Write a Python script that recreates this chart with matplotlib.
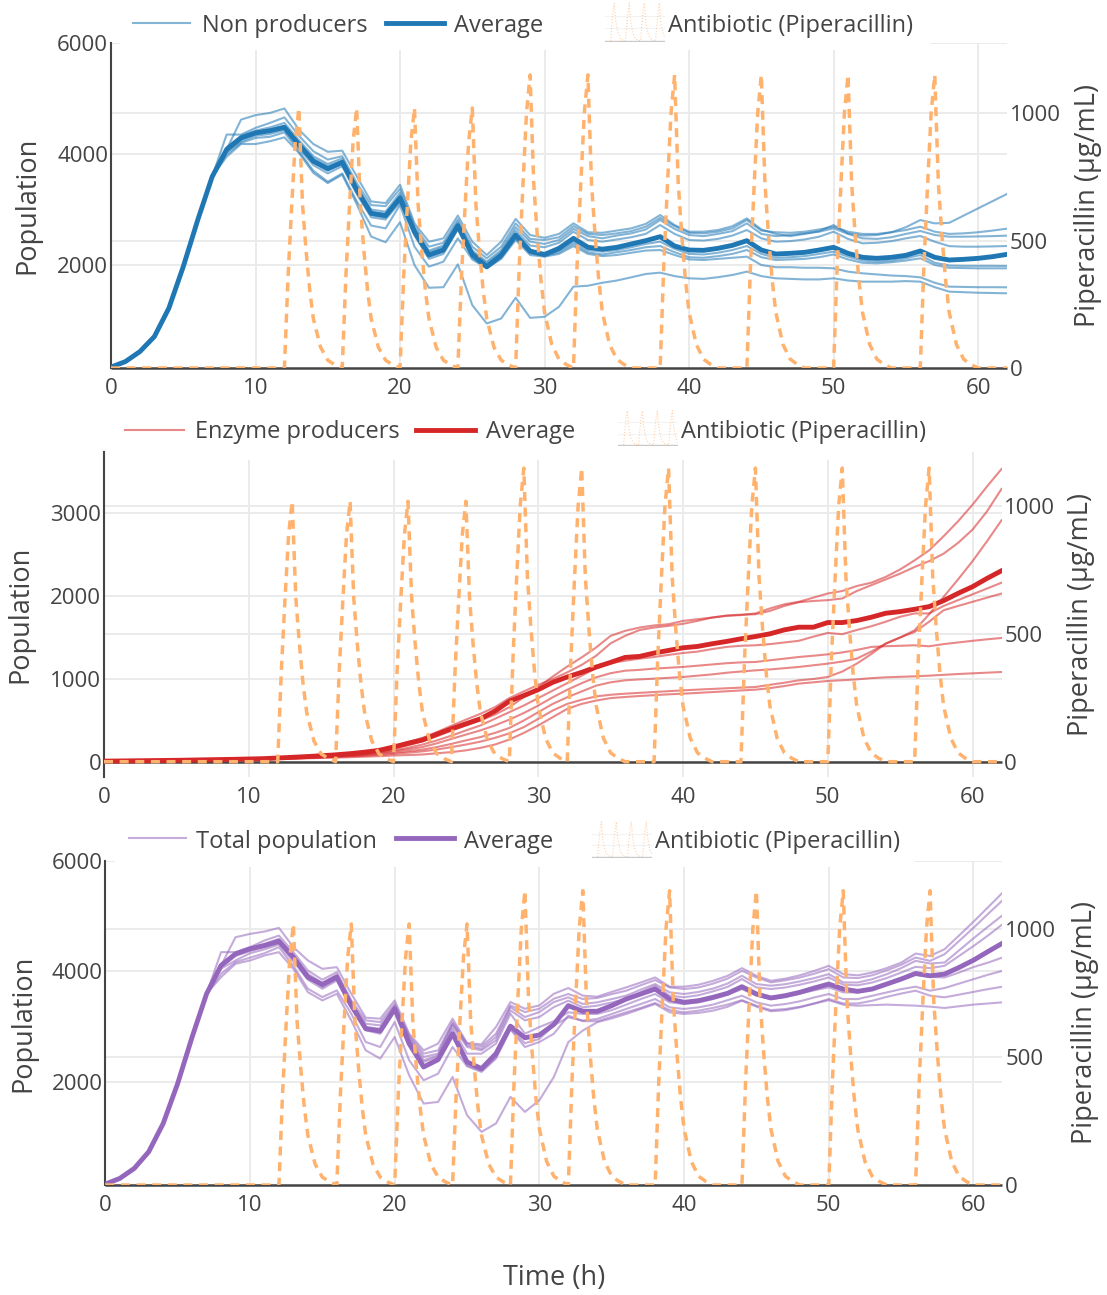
import numpy as np
import matplotlib
import matplotlib.pyplot as plt
from matplotlib.lines import Line2D
from matplotlib.patches import Rectangle

matplotlib.rcParams['font.family'] = ['Open Sans', 'DejaVu Sans']

hours = list(range(63))

# antibiotic doses (h) and peak concentration reached one hour later
dose_start = [12, 16, 20, 24, 28, 32, 38, 44, 50, 56]
dose_peak = [1020, 1020, 1020, 1020, 1150, 1150, 1150, 1150, 1150, 1150]
# shape of one dose, relative to its peak, hours after the dose
dose_offset = [0, 0.25, 0.5, 0.75, 1.0, 1.25, 1.5, 1.75, 2.0, 2.5, 3.0, 3.5, 4.0]
dose_shape = [0, 0.35, 0.62, 0.87, 1.0, 0.63, 0.45, 0.30, 0.19, 0.08, 0.03, 0.012, 0]

# ---- non producers (t = 0..62) ----
np_early = [160, 260, 440, 710, 1220, 1970, 2810, 3590]
np_avg = np_early + [
    4080, 4290, 4380, 4420, 4480, 4170, 3870, 3735, 3850, 3355,
    2930, 2890, 3205, 2600, 2180, 2270, 2705, 2190, 1970, 2180,
    2540, 2250, 2190, 2300, 2480, 2320, 2285, 2318, 2378, 2438,
    2510, 2342, 2270, 2264, 2300, 2354, 2438, 2270, 2198, 2210,
    2228, 2270, 2318, 2210, 2138, 2120, 2138, 2174, 2252, 2138,
    2090, 2102, 2120, 2150, 2192]
np_reps = [
    np_early + [4080, 4620, 4700, 4740, 4820, 4440, 4180, 4040, 4060, 3600,
                3145, 3115, 3446, 2750, 2420, 2480, 2890, 2420, 2180, 2420,
                2830, 2540, 2490, 2560, 2750, 2590, 2580, 2620, 2660, 2740,
                2900, 2720, 2600, 2600, 2630, 2700, 2840, 2640, 2560, 2520,
                2560, 2610, 2720, 2570, 2530, 2540, 2590, 2680, 2810, 2750,
                2760, 2890, 3020, 3150, 3280],
    np_early + [4350, 4350, 4470, 4560, 4660, 4330, 4050, 3900, 3960, 3480,
                3080, 3060, 3370, 2700, 2330, 2400, 2820, 2330, 2120, 2330,
                2750, 2470, 2450, 2500, 2700, 2560, 2540, 2570, 2610, 2690,
                2850, 2700, 2580, 2570, 2600, 2660, 2810, 2620, 2590, 2580,
                2600, 2640, 2690, 2600, 2560, 2560, 2590, 2630, 2690, 2600,
                2560, 2570, 2590, 2620, 2655],
    np_early + [4120, 4330, 4420, 4480, 4560, 4250, 3960, 3820, 3920, 3420,
                3000, 2960, 3300, 2650, 2260, 2350, 2770, 2260, 2060, 2270,
                2680, 2420, 2380, 2450, 2650, 2520, 2480, 2530, 2570, 2640,
                2810, 2650, 2540, 2520, 2560, 2610, 2750, 2560, 2520, 2540,
                2570, 2600, 2660, 2560, 2480, 2470, 2500, 2560, 2613, 2540,
                2510, 2510, 2515, 2520, 2529],
    np_early + [4100, 4300, 4400, 4440, 4510, 4200, 3920, 3780, 3880, 3380,
                2960, 2920, 3250, 2620, 2230, 2320, 2740, 2230, 2030, 2230,
                2620, 2350, 2320, 2400, 2600, 2450, 2420, 2460, 2500, 2560,
                2720, 2560, 2450, 2440, 2470, 2530, 2630, 2480, 2420, 2430,
                2460, 2510, 2600, 2470, 2390, 2400, 2430, 2480, 2523, 2420,
                2340, 2330, 2330, 2335, 2342],
    np_early + [4060, 4270, 4370, 4400, 4470, 4150, 3850, 3700, 3820, 3320,
                2900, 2850, 3170, 2560, 2150, 2240, 2680, 2160, 1950, 2150,
                2510, 2230, 2170, 2260, 2420, 2270, 2240, 2270, 2320, 2380,
                2420, 2290, 2200, 2190, 2220, 2270, 2342, 2200, 2130, 2140,
                2160, 2200, 2240, 2150, 2080, 2060, 2080, 2120, 2180, 2040,
                1990, 1985, 1985, 1984, 1982],
    np_early + [4040, 4230, 4330, 4360, 4430, 4100, 3800, 3650, 3780, 3280,
                2860, 2820, 3130, 2530, 2110, 2200, 2640, 2130, 1940, 2130,
                2480, 2210, 2160, 2230, 2380, 2230, 2190, 2230, 2270, 2320,
                2342, 2230, 2140, 2130, 2160, 2200, 2270, 2140, 2090, 2100,
                2110, 2140, 2190, 2100, 2040, 2030, 2050, 2080, 2120, 2000,
                1950, 1945, 1940, 1940, 1940],
    np_early + [4000, 4200, 4290, 4310, 4390, 4050, 3700, 3500, 3650, 3150,
                2711, 2660, 3085, 2330, 1970, 2060, 2480, 2100, 1940, 2110,
                2450, 2180, 2150, 2200, 2340, 2200, 2160, 2180, 2220, 2260,
                2270, 2180, 2100, 2090, 2110, 2130, 2150, 2000, 1960, 1960,
                1950, 1950, 1940, 1880, 1850, 1830, 1810, 1800, 1778, 1680,
                1610, 1605, 1600, 1600, 1598],
    np_early + [3950, 4180, 4180, 4230, 4300, 4020, 3660, 3476, 3627, 3100,
                2512, 2410, 2771, 2000, 1590, 1600, 2012, 1277, 946, 1036,
                1410, 1048, 1066, 1247, 1610, 1626, 1680, 1720, 1778, 1838,
                1862, 1800, 1760, 1750, 1780, 1820, 1880, 1800, 1760, 1750,
                1740, 1740, 1760, 1720, 1700, 1700, 1700, 1710, 1700, 1600,
                1520, 1510, 1500, 1495, 1490],
]

# ---- enzyme producers ----
ep_early = [10, 12, 14, 16, 18, 20, 23, 26, 29, 32, 36, 40]
ep_avg = ep_early + [
    48, 56, 65, 75, 86, 100, 118, 140, 180, 225,
    265, 335, 400, 460, 520, 612, 732, 800, 872, 960,
    1024, 1080, 1144, 1200, 1260, 1272, 1312, 1344, 1376, 1392,
    1424, 1452, 1484, 1512, 1544, 1592, 1624, 1624, 1680, 1680,
    1704, 1744, 1792, 1812, 1840, 1872, 1944, 2032, 2112, 2212, 2304]
ep_reps = [
    ep_early + [48, 55, 62, 70, 80, 92, 108, 130, 160, 200,
                250, 310, 377, 440, 500, 570, 660, 780, 900, 1030,
                1150, 1260, 1380, 1520, 1580, 1620, 1645, 1660, 1700, 1720,
                1740, 1760, 1770, 1790, 1850, 1900, 1930, 1980, 2030, 2060,
                2120, 2160, 2230, 2320, 2430, 2550, 2720, 2900, 3100, 3320, 3530],
    ep_early + [46, 54, 62, 72, 84, 100, 120, 150, 190, 240,
                290, 360, 437, 510, 580, 660, 770, 850, 930, 1000,
                1080, 1170, 1280, 1430, 1520, 1590, 1620, 1640, 1665, 1700,
                1740, 1765, 1775, 1780, 1820, 1880, 1925, 1940, 1950, 1970,
                2060, 2130, 2200, 2270, 2350, 2420, 2510, 2640, 2800, 3020, 3290],
    ep_early + [44, 50, 57, 65, 75, 86, 100, 115, 140, 170,
                210, 260, 317, 380, 440, 520, 600, 680, 770, 860,
                950, 1040, 1130, 1190, 1220, 1245, 1265, 1290, 1313, 1330,
                1360, 1386, 1400, 1406, 1420, 1440, 1460, 1510, 1555, 1540,
                1590, 1635, 1690, 1750, 1790, 1790, 1880, 1950, 2020, 2090, 2160],
    ep_early + [42, 48, 55, 62, 70, 80, 92, 110, 130, 152,
                180, 225, 278, 330, 380, 440, 510, 590, 680, 780,
                870, 950, 1020, 1070, 1100, 1110, 1125, 1135, 1145, 1160,
                1175, 1190, 1200, 1205, 1225, 1245, 1265, 1280, 1297, 1320,
                1350, 1386, 1395, 1400, 1406, 1394, 1420, 1440, 1460, 1478, 1494],
    ep_early + [40, 46, 52, 58, 65, 74, 84, 96, 112, 130,
                150, 180, 218, 260, 300, 350, 410, 500, 600, 700,
                780, 850, 920, 960, 984, 995, 1004, 1014, 1024, 1040,
                1055, 1075, 1090, 1104, 1115, 1130, 1145, 1165, 1185, 1210,
                1245, 1330, 1426, 1500, 1567, 1690, 1828, 1880, 1930, 1980, 2029],
    ep_early + [38, 43, 48, 54, 60, 68, 76, 86, 98, 112,
                128, 150, 179, 210, 245, 290, 345, 420, 520, 620,
                700, 750, 790, 810, 823, 833, 843, 853, 863, 872,
                880, 888, 896, 903, 930, 955, 984, 1000, 1024, 1090,
                1185, 1300, 1426, 1500, 1587, 1780, 1989, 2200, 2420, 2660, 2912],
    ep_early + [36, 40, 44, 48, 53, 58, 64, 70, 78, 84,
                90, 105, 119, 140, 170, 210, 270, 350, 440, 540,
                640, 700, 740, 770, 783, 795, 805, 815, 823, 832,
                842, 852, 862, 871, 890, 915, 944, 960, 976, 985,
                995, 1010, 1020, 1026, 1032, 1040, 1050, 1060, 1068, 1076, 1084],
]

# ---- total population ----
tot_early = [150, 253, 434, 735, 1247, 1970, 2813, 3596]
tot_avg = tot_early + [
    4108, 4319, 4410, 4470, 4548, 4259, 3898, 3765, 3898, 3385,
    2964, 2922, 3325, 2693, 2271, 2404, 2873, 2361, 2241, 2512,
    3010, 2800, 2850, 3040, 3381, 3279, 3279, 3381, 3501, 3592,
    3682, 3501, 3441, 3471, 3532, 3604, 3724, 3592, 3520, 3562,
    3622, 3700, 3772, 3682, 3640, 3682, 3772, 3862, 3964, 3922,
    3952, 4072, 4204, 4360, 4511]
tot_reps = [
    tot_early + [4108, 4620, 4680, 4723, 4789, 4440, 4199, 4048, 4078, 3596,
                 3163, 3145, 3476, 2873, 2572, 2693, 3145, 2705, 2681, 2994,
                 3446, 3325, 3385, 3596, 3700, 3562, 3544, 3630, 3712, 3800,
                 3892, 3724, 3724, 3760, 3830, 3920, 4060, 3922, 3832, 3870,
                 3930, 4010, 4102, 3952, 3930, 3980, 4060, 4160, 4324, 4282,
                 4402, 4650, 4900, 5160, 5423],
    tot_early + [4350, 4350, 4440, 4560, 4650, 4350, 4018, 3850, 3988, 3476,
                 3114, 3084, 3416, 2840, 2512, 2572, 3084, 2693, 2645, 2873,
                 3385, 3265, 3325, 3506, 3592, 3501, 3520, 3590, 3652, 3750,
                 3844, 3712, 3682, 3710, 3780, 3870, 4012, 3892, 3802, 3840,
                 3890, 3960, 4042, 3892, 3880, 3930, 4020, 4120, 4252, 4192,
                 4312, 4550, 4790, 5040, 5285],
    tot_early + [4139, 4319, 4410, 4500, 4590, 4290, 3958, 3789, 3946, 3440,
                 3054, 3024, 3380, 2810, 2452, 2512, 3054, 2663, 2602, 2813,
                 3355, 3175, 3265, 3446, 3532, 3411, 3441, 3500, 3562, 3670,
                 3772, 3622, 3592, 3630, 3690, 3780, 3922, 3772, 3742, 3770,
                 3820, 3880, 3952, 3802, 3800, 3860, 3950, 4060, 4192, 4144,
                 4162, 4380, 4600, 4810, 5015],
    tot_early + [4110, 4300, 4390, 4470, 4548, 4260, 3928, 3747, 3910, 3410,
                 2994, 2964, 3355, 2780, 2392, 2482, 3024, 2633, 2572, 2753,
                 3295, 3115, 3175, 3355, 3471, 3351, 3381, 3440, 3501, 3620,
                 3742, 3562, 3532, 3570, 3640, 3720, 3862, 3712, 3682, 3710,
                 3760, 3820, 3892, 3760, 3750, 3800, 3880, 3980, 4084, 4060,
                 4102, 4280, 4460, 4650, 4853],
    tot_early + [4080, 4280, 4370, 4440, 4512, 4220, 3898, 3717, 3867, 3380,
                 2964, 2922, 3300, 2750, 2361, 2452, 2964, 2512, 2512, 2693,
                 3235, 2873, 2994, 3100, 3261, 3231, 3231, 3300, 3399, 3500,
                 3592, 3441, 3411, 3440, 3500, 3580, 3682, 3562, 3501, 3540,
                 3600, 3660, 3712, 3622, 3620, 3680, 3760, 3860, 3940, 3900,
                 3892, 3980, 4080, 4160, 4252],
    tot_early + [4050, 4200, 4330, 4400, 4488, 4180, 3850, 3687, 3837, 3350,
                 2934, 2873, 3280, 2700, 2290, 2420, 2850, 2300, 2200, 2450,
                 2964, 2700, 2780, 3024, 3171, 3111, 3141, 3230, 3321, 3410,
                 3501, 3351, 3321, 3350, 3400, 3480, 3562, 3441, 3381, 3410,
                 3460, 3530, 3592, 3501, 3500, 3560, 3620, 3680, 3724, 3652,
                 3700, 3780, 3860, 3940, 4012],
    tot_early + [3958, 4169, 4250, 4330, 4440, 4100, 3687, 3536, 3657, 3235,
                 2723, 2632, 3084, 2392, 2030, 2150, 2632, 2283, 2181, 2422,
                 2950, 2632, 2723, 2873, 3200, 3100, 3100, 3180, 3260, 3340,
                 3430, 3300, 3260, 3290, 3340, 3400, 3480, 3380, 3300, 3320,
                 3360, 3420, 3501, 3420, 3420, 3470, 3540, 3600, 3652, 3562,
                 3532, 3580, 3630, 3680, 3724],
    tot_early + [3898, 4139, 4199, 4289, 4350, 4048, 3626, 3476, 3596, 3114,
                 2572, 2422, 2813, 2120, 1608, 1638, 2090, 1398, 1096, 1247,
                 1729, 1458, 1669, 2090, 2721, 2931, 3081, 3150, 3231, 3320,
                 3411, 3261, 3231, 3250, 3290, 3360, 3471, 3363, 3279, 3300,
                 3350, 3420, 3480, 3399, 3380, 3390, 3400, 3390, 3381, 3363,
                 3339, 3370, 3400, 3420, 3441],
]

# antibiotic concentration over time
abx_t, abx_v = [0], [0]
for d, p in zip(dose_start, dose_peak):
    for o, s in zip(dose_offset, dose_shape):
        abx_t.append(d + o)
        abx_v.append(p * s)
abx_t.append(62)
abx_v.append(0)

W, H = 1107, 1295
fig = plt.figure(figsize=(W / 100, H / 100), dpi=100)

TXT = '#444444'
GRID = '#ebebeb'
ABX = '#ffb26e'


def fx(x):
    return x / W


def fy(y):
    return 1 - y / H


def px_axes(x0, y0, x1, y1, **kw):
    return fig.add_axes([fx(x0), fy(y1), (x1 - x0) / W, (y1 - y0) / H], **kw)


panels = [
    dict(box=(111, 43, 1007, 368), reps=np_reps, avg=np_avg, color='#1f77b4',
         ylim=(144, 6000), yticks=[2000, 4000, 6000], rlim=(0, 1275),
         name='Non producers', ylab_x=27, rlab_x=1088,
         mask=(120, 0, 930, 50), line_y=22.7, base_y=32,
         thin=(133, 190), t1=202, thick=(386, 444), t2=454,
         icon=(605, 1, 665, 42), t3=668),
    dict(box=(104, 452, 1001.5, 777), reps=ep_reps, avg=ep_avg, color='#d62728',
         ylim=(-181, 3735), yticks=[0, 1000, 2000, 3000], rlim=(-60, 1213),
         name='Enzyme producers', ylab_x=20, rlab_x=1081,
         mask=(115, 400, 940, 460), line_y=430, base_y=438,
         thin=(125, 184), t1=195, thick=(416, 475), t2=486,
         icon=(618, 409, 678, 446), t3=681),
    dict(box=(105.3, 861, 1002.4, 1185), reps=tot_reps, avg=tot_avg, color='#9467bd',
         ylim=(134, 6000), yticks=[2000, 4000, 6000], rlim=(0, 1266),
         name='Total population', ylab_x=23, rlab_x=1085,
         mask=(115, 808, 915, 867), line_y=837.5, base_y=848,
         thin=(129, 186), t1=196, thick=(396, 454), t2=464,
         icon=(592, 820, 652, 858), t3=655),
]

for p in panels:
    ax = px_axes(*p['box'])
    ax2 = ax.twinx()
    r0, r1 = p['rlim']

    for s in ['top', 'right', 'bottom']:
        ax.spines[s].set_visible(False)
        ax2.spines[s].set_visible(False)
    ax2.spines['left'].set_visible(False)
    ax.spines['left'].set_color(TXT)
    ax.spines['left'].set_linewidth(1.5)

    ax.set_xlim(0, 62)
    ax.set_ylim(*p['ylim'])
    ax2.set_ylim(r0, r1)
    ax.set_xticks(range(0, 61, 10))
    ax.set_yticks(p['yticks'])
    ax2.set_yticks([0, 500, 1000])
    ax.tick_params(axis='x', length=0, pad=7, labelsize=16, labelcolor=TXT)
    ax.tick_params(axis='y', length=0, pad=2, labelsize=16, labelcolor=TXT)
    ax2.tick_params(axis='y', length=0, pad=2, labelsize=16, labelcolor=TXT)

    # grid lines of both y axes, kept under the data
    ax.grid(True, color=GRID, linewidth=1.4, zorder=0)
    ax.set_axisbelow(True)
    for v in [500, 1000]:
        f = (v - r0) / (r1 - r0)
        ax.plot([0, 1], [f, f], transform=ax.transAxes, color=GRID, lw=1.4, zorder=0.5)
    f0 = (0 - r0) / (r1 - r0)
    ax.plot([0, 1], [f0, f0], transform=ax.transAxes, color=TXT, lw=1.8,
            zorder=1.5, clip_on=False, solid_capstyle='butt')

    for r in p['reps']:
        ax.plot(hours, r, color=p['color'], lw=1.5, alpha=0.55, zorder=2)
    ax.plot(hours, p['avg'], color=p['color'], lw=3.5, zorder=3)

    ax2.plot(abx_t, abx_v, color=ABX, lw=2.5, dashes=(2.6, 1.9), zorder=4)

    # axis titles
    fig.text(fx(p['ylab_x']), fy((p['box'][1] + p['box'][3]) / 2), 'Population',
             rotation=90, ha='center', va='center', fontsize=19.5, color=TXT)
    fig.text(fx(p['rlab_x']), fy((p['box'][1] + p['box'][3]) / 2),
             'Piperacillin (µg/mL)', rotation=90, ha='center', va='center',
             fontsize=19.5, color=TXT)

    # legend drawn by hand over a white band
    mx0, my0, mx1, my1 = p['mask']
    fig.add_artist(Rectangle((fx(mx0), fy(my1)), (mx1 - mx0) / W, (my1 - my0) / H,
                             transform=fig.transFigure, facecolor='white',
                             edgecolor='none', zorder=5))
    ly = fy(p['line_y'])
    fig.add_artist(Line2D([fx(p['thin'][0]), fx(p['thin'][1])], [ly, ly],
                          transform=fig.transFigure, color=p['color'], lw=1.5,
                          alpha=0.55, zorder=6))
    fig.add_artist(Line2D([fx(p['thick'][0]), fx(p['thick'][1])], [ly, ly],
                          transform=fig.transFigure, color=p['color'], lw=3.5,
                          zorder=6))
    fig.text(fx(p['t1']), fy(p['base_y']), p['name'], ha='left', va='baseline',
             fontsize=17, color=TXT, zorder=6)
    fig.text(fx(p['t2']), fy(p['base_y']), 'Average', ha='left', va='baseline',
             fontsize=17, color=TXT, zorder=6)
    fig.text(fx(p['t3']), fy(p['base_y']), 'Antibiotic (Piperacillin)', ha='left',
             va='baseline', fontsize=17, color=TXT, zorder=6)

    icon = px_axes(*p['icon'], zorder=7)
    icon.set_axis_off()
    it, iv = [], []
    for d in [0, 4, 8, 12]:
        for o, s in zip(dose_offset, dose_shape):
            it.append(d + o)
            iv.append(s)
    for g in [0.33, 0.66]:
        icon.axhline(g, color='#f3f3f3', lw=0.8)
    icon.axhline(0, color='#c8c8c8', lw=1.0)
    icon.plot(it, iv, color=ABX, lw=0.8, alpha=0.6, linestyle=':')
    icon.set_xlim(-1.5, 14.5)
    icon.set_ylim(-0.03, 1.05)

fig.text(fx(554), fy(1278), 'Time (h)', ha='center', va='center',
         fontsize=19.5, color=TXT)

fig.savefig('out.png', dpi=100)
